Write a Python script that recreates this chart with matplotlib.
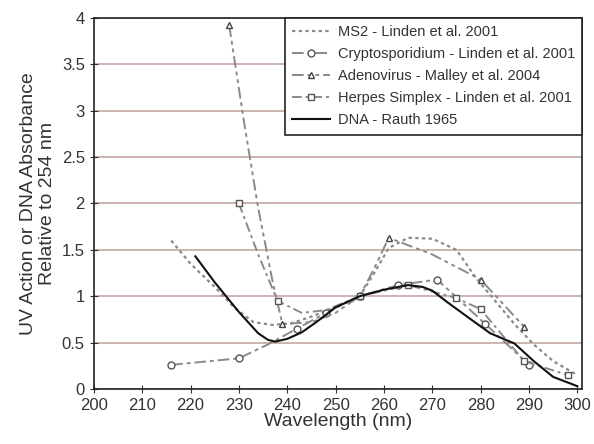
import numpy as np
import matplotlib.pyplot as plt

plt.rcParams['font.family'] = ['Liberation Sans', 'DejaVu Sans']

ms2_x = [216, 220, 225, 229, 233, 237, 241, 245, 250, 255, 258, 261, 265, 270, 275, 279, 283, 287, 291, 295, 300]
ms2_y = [1.60, 1.35, 1.10, 0.88, 0.72, 0.69, 0.71, 0.78, 0.88, 1.00, 1.25, 1.52, 1.63, 1.62, 1.50, 1.20, 0.95, 0.70, 0.48, 0.30, 0.15]

crypto_x = [216, 230, 236, 242, 248, 255, 263, 271, 281, 290]
crypto_y = [0.26, 0.33, 0.48, 0.65, 0.82, 1.00, 1.12, 1.18, 0.70, 0.26]
crypto_mk = [0, 1, 3, 4, 5, 6, 7, 8, 9]

adeno_x = [228, 231, 234, 237, 239, 245, 250, 255, 258, 261, 270, 280, 289]
adeno_y = [3.92, 2.90, 1.95, 1.15, 0.70, 0.72, 0.82, 1.00, 1.30, 1.63, 1.45, 1.18, 0.67]
adeno_mk = [0, 4, 7, 9, 11, 12]

herpes_x = [230, 234, 238, 243, 248, 255, 265, 275, 280, 289, 298]
herpes_y = [2.00, 1.45, 0.95, 0.82, 0.85, 1.00, 1.12, 0.98, 0.86, 0.30, 0.15]
herpes_mk = [0, 2, 5, 6, 7, 8, 9, 10]

dna_x = [221, 225, 230, 234, 236, 237.5, 240, 243, 246, 250, 255, 260, 265, 268, 270, 273, 278, 282, 287, 291, 295, 300]
dna_y = [1.43, 1.15, 0.83, 0.60, 0.53, 0.51, 0.54, 0.61, 0.72, 0.88, 1.00, 1.07, 1.12, 1.10, 1.06, 0.94, 0.75, 0.60, 0.49, 0.30, 0.13, 0.03]

fig = plt.figure(figsize=(5.94, 4.44), dpi=100)
ax = fig.add_axes([0.158, 0.124, 0.822, 0.8355])

grey = '#8a8a8a'
ax.plot(ms2_x, ms2_y, color=grey, ls=(0, (1.5, 1.5)), lw=1.6,
        label='MS2 - Linden et al. 2001')
ax.plot(crypto_x, crypto_y, color=grey, ls=(0, (6, 2, 2, 2)), lw=1.4,
        marker='o', ms=5, mfc='white', mec='#555555', markevery=crypto_mk,
        label='Cryptosporidium - Linden et al. 2001')
ax.plot(adeno_x, adeno_y, color=grey, ls=(0, (6, 2, 2, 2, 2, 2)), lw=1.4,
        marker='^', ms=5, mfc='white', mec='#444444', markevery=adeno_mk,
        label='Adenovirus - Malley et al. 2004')
ax.plot(herpes_x, herpes_y, color=grey, ls=(0, (5, 2, 1.5, 2)), lw=1.4,
        marker='s', ms=5, mfc='white', mec='#555555', markevery=herpes_mk,
        label='Herpes Simplex - Linden et al. 2001')
ax.plot(dna_x, dna_y, color='#111111', ls='-', lw=1.5,
        label='DNA - Rauth 1965')

ax.set_xlim(200, 301)
ax.set_ylim(0, 4)
ax.set_xticks(np.arange(200, 301, 10))
ax.set_yticks(np.arange(0, 4.01, 0.5))
ax.set_yticklabels(['0', '0.5', '1', '1.5', '2', '2.5', '3', '3.5', '4'])
ax.yaxis.grid(True, color='#c4a8a0', lw=1.2)
ax.set_axisbelow(True)
ax.tick_params(direction='inout', length=6, labelsize=12, colors='#333333')
for s in ax.spines.values():
    s.set_color('#222222')
    s.set_linewidth(1.2)

ax.set_xlabel('Wavelength (nm)', fontsize=14, color='#333333', labelpad=0)
ax.set_ylabel('UV Action or DNA Absorbance\nRelative to 254 nm', fontsize=14,
              color='#333333', labelpad=4, linespacing=1.15)

leg = ax.legend(loc='upper right', borderaxespad=0, fontsize=10.5, fancybox=False,
                edgecolor='#222222', framealpha=1, handlelength=2.6,
                labelspacing=0.55, borderpad=0.5, handletextpad=0.5)
leg.get_frame().set_linewidth(1.2)
for t in leg.get_texts():
    t.set_color('#333333')

fig.savefig('out.png', dpi=100)
